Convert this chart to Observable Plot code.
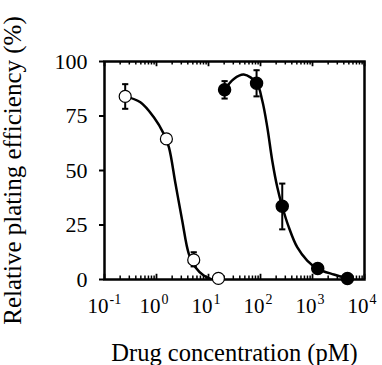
<!DOCTYPE html>
<html>
<head>
<meta charset="utf-8">
<script src="https://cdn.jsdelivr.net/npm/d3@7"></script>
<script src="https://cdn.jsdelivr.net/npm/@observablehq/plot@0.6"></script>
<style>
  html, body { margin: 0; padding: 0; background: #fff; }
  g[aria-label="y-axis tick label"], g[aria-label="y-axis tick label"] text { font-size: 22px; }
  g[aria-label="y-axis label"], g[aria-label="y-axis label"] text { font-size: 25px; }
  g[aria-label="x-axis label"], g[aria-label="x-axis label"] text { font-size: 24.5px; }
</style>
</head>
<body>
<div id="chart"></div>
<script>
// ---- data ----
const openConc = [0.25, 1.55, 5.2, 15.5];
const openEff = [84, 64.5, 9, 0.5];
const openLow = [78.3, 62.5, 6, 0.5];
const openHigh = [89.6, 66.5, 12.5, 0.5];

const filledConc = [20.4, 84, 262, 1260, 4700];
const filledEff = [87, 90, 33.6, 5, 0.5];
const filledLow = [83, 84, 23, 4.5, 0.5];
const filledHigh = [91, 96, 44, 5.5, 0.5];

// fitted curves
const openCurveConc = [0.25, 0.49, 0.89, 1.38, 1.73, 2.32, 3.12, 4.18, 5.6, 8.1, 11];
const openCurveEff = [84, 81.3, 74.4, 66.8, 60.7, 43.9, 27.1, 11.8, 5.6, 1.8, 0.3];
const filledCurveConc = [20.3, 30.7, 47.7, 83.8, 108, 135, 168, 210, 261, 350, 508, 791, 1260, 2570, 4680];
const filledCurveEff = [87, 92, 94, 90.2, 82.1, 69.9, 54.6, 42.4, 33.6, 24, 14.8, 8.7, 4.9, 2.3, 0.6];

const yTicks = [0, 25, 50, 75, 100];
const decadeTicks = [0.1, 1, 10, 100, 1000, 10000];
const decadeExp = ["-1", "0", "1", "2", "3", "4"];
const minorMultipliers = [2, 3, 4, 5, 6, 7, 8, 9];

const xLabel = "Drug concentration (pM)";
const yLabel = "Relative plating efficiency (%)";

// ---- tables built from the arrays ----
const openPts = openConc.map((c, i) => ({c, e: openEff[i], lo: openLow[i], hi: openHigh[i]}));
const filledPts = filledConc.map((c, i) => ({c, e: filledEff[i], lo: filledLow[i], hi: filledHigh[i]}));
const openCurve = openCurveConc.map((c, i) => ({c, e: openCurveEff[i]}));
const filledCurve = filledCurveConc.map((c, i) => ({c, e: filledCurveEff[i]}));
const decades = decadeTicks.map((v, i) => ({v, exp: decadeExp[i]}));
const minor = decadeTicks.slice(0, -1).flatMap(d => minorMultipliers.map(m => d * m));

const errPts = [...openPts, ...filledPts].filter(d => d.hi - d.lo > 0.6);
const capSymbol = {
  draw(context, size) {
    const w = Math.sqrt(size) / 2;
    context.moveTo(-w, 0);
    context.lineTo(w, 0);
  }
};

const FONT = "'Liberation Serif', 'Times New Roman', serif";

const chart = Plot.plot({
  width: 382,
  height: 365,
  marginLeft: 104,
  marginRight: 18,
  marginTop: 61,
  marginBottom: 86,
  style: {fontFamily: FONT, fontSize: "20px", color: "#000", background: "#fff", overflow: "visible"},
  x: {type: "log", domain: [0.1, 10000]},
  y: {domain: [0, 100]},
  marks: [
    // minor and major ticks on bottom and top (inward)
    Plot.ruleX(minor, {x: d => d, y1: 0, y2: 1.6, stroke: "#000", strokeWidth: 1.5}),
    Plot.ruleX(minor, {x: d => d, y1: 100, y2: 98.4, stroke: "#000", strokeWidth: 1.5}),
    Plot.ruleX(decades, {x: "v", y1: 0, y2: 2.4, stroke: "#000", strokeWidth: 1.8}),
    Plot.ruleX(decades, {x: "v", y1: 100, y2: 97.6, stroke: "#000", strokeWidth: 1.8}),
    Plot.axisY({
      ticks: yTicks, tickSize: 5, tickPadding: 12, strokeWidth: 2,
      label: yLabel, labelAnchor: "center", labelOffset: 101, labelArrow: "none"
    }),
    Plot.axisX({
      ticks: [], tickSize: 0, label: xLabel, labelAnchor: "center", labelOffset: 81, labelArrow: "none"
    }),
    // decade labels: 10 with superscript exponent
    Plot.text(decades, {x: "v", y: 0, text: () => "10", textAnchor: "end", dx: 4, dy: 27, fontSize: 21}),
    Plot.text(decades, {x: "v", y: 0, text: "exp", textAnchor: "start", dx: 5, dy: 20, fontSize: 14}),
    Plot.frame({stroke: "#000", strokeWidth: 2.5}),
    // curves
    Plot.line(openCurve, {x: "c", y: "e", curve: "catmull-rom", stroke: "#000", strokeWidth: 2.5}),
    Plot.line(filledCurve, {x: "c", y: "e", curve: "catmull-rom", stroke: "#000", strokeWidth: 2.5}),
    // error bars
    Plot.ruleX(errPts, {x: "c", y1: "lo", y2: "hi", stroke: "#000", strokeWidth: 2}),
    Plot.dot(errPts, {x: "c", y: "lo", symbol: capSymbol, r: 3.5, stroke: "#000", strokeWidth: 2}),
    Plot.dot(errPts, {x: "c", y: "hi", symbol: capSymbol, r: 3.5, stroke: "#000", strokeWidth: 2}),
    // points
    Plot.dot(openPts, {x: "c", y: "e", r: 6, fill: "#fff", stroke: "#000", strokeWidth: 1.2}),
    Plot.dot(filledPts, {x: "c", y: "e", r: 6, fill: "#000", stroke: "#000"})
  ]
});
document.getElementById("chart").appendChild(chart);
</script>
</body>
</html>
